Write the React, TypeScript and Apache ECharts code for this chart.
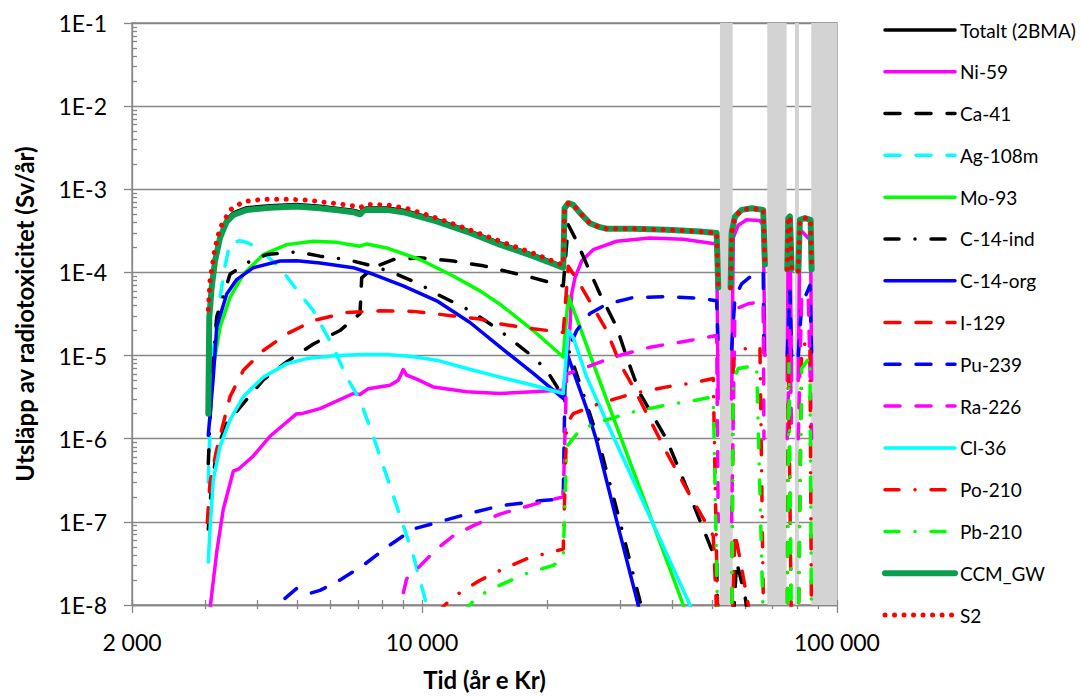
import React, { useEffect, useRef } from 'react';
import * as echarts from 'echarts';

type Pt = [number, number | null];

// ---------- axis ticks / labels ----------
const xTickValues = [2000, 10000, 100000];
const xTickLabels = ['2 000', '10 000', '100 000'];
const xMinorTicks = [3000, 4000, 5000, 6000, 7000, 8000, 9000, 20000, 30000, 40000, 50000, 60000, 70000, 80000, 90000];
const yTickValues = [1e-8, 1e-7, 1e-6, 1e-5, 1e-4, 1e-3, 1e-2, 1e-1];
const yTickLabels = ['1E-8', '1E-7', '1E-6', '1E-5', '1E-4', '1E-3', '1E-2', '1E-1'];
const yMinorMultipliers = [2, 3, 4, 5, 6, 7, 8, 9];

// gray time bands (år e Kr)
const bands: [number, number][] = [
  [52230, 56050],
  [67900, 75620],
  [79170, 80950],
  [86690, 100000],
];

// ---------- series data [år, Sv/år] (null = gap) ----------
const totalt: Pt[] = [
  [3054, 2.2e-6], [3071, 3.1e-5], [3112, 7e-5], [3170, 1.45e-4], [3259, 2.75e-4], [3383, 4.35e-4], [3509, 5.2e-4],
  [3780, 6e-4], [4301, 6.35e-4], [4988, 6.55e-4], [5676, 6.25e-4], [6342, 5.85e-4], [6828, 5.6e-4], [7087, 5.3e-4],
  [7218, 5.8e-4], [7355, 5.95e-4], [8217, 5.95e-4], [9010, 5.6e-4], [10850, 4.3e-4], [12810, 3.25e-4], [15410, 2.26e-4],
  [18540, 1.64e-4], [21890, 1.19e-4], [22050, 5.9e-4], [22510, 6.8e-4], [23140, 6.5e-4], [24020, 5.2e-4], [25390, 3.9e-4],
  [26840, 3.5e-4], [27860, 3.35e-4], [32280, 3.35e-4], [38860, 3.26e-4], [46750, 3.1e-4], [51280, 2.98e-4], [51740, 6.6e-5],
  [53500, null], [55420, 6.6e-5], [55730, 3e-4], [56760, 4.7e-4], [58910, 5.65e-4], [62270, 5.9e-4], [66410, 5.65e-4],
  [67040, 1.25e-4], [70000, null], [75870, 1.09e-4], [76290, 4.5e-4], [77010, 4.7e-4], [77740, 1.1e-4], [79000, null],
  [80640, 1.04e-4], [81400, 4.3e-4], [83690, 4.5e-4], [86380, 4.3e-4], [86860, 1.09e-4],
];
const ni59: Pt[] = [
  [3083, 9e-9], [3200, 4.3e-8], [3319, 1.42e-7], [3509, 4.07e-7], [3608, 4.3e-7], [3921, 6.2e-7], [4301, 1.07e-6],
  [4988, 2.0e-6], [5128, 2.0e-6], [5676, 2.3e-6], [6828, 3.5e-6], [7087, 3.4e-6], [7421, 4.0e-6], [8370, 4.4e-6],
  [8763, 5.06e-6], [9010, 6.8e-6], [9181, 5.8e-6], [9706, 5.2e-6], [10640, 4.2e-6], [12810, 3.67e-6], [15410, 3.5e-6],
  [18540, 3.67e-6], [21890, 3.85e-6], [22310, 8e-6], [22720, 2.2e-5], [22940, 5.5e-5], [23360, 8.6e-5], [24240, 1.37e-4],
  [25860, 1.88e-4], [29450, 2.37e-4], [35420, 2.6e-4], [42610, 2.5e-4], [51280, 2.2e-4], [51740, 3e-6], [53500, null],
  [55730, 3e-6], [56230, 2.6e-4], [57810, 3.7e-4], [60570, 4.3e-4], [65210, 4.2e-4], [66410, 3.7e-4], [67040, 1e-5],
  [70000, null], [75870, 5e-6], [76290, 3.5e-4], [77010, 3.6e-4], [77740, 5e-6], [79000, null], [80640, 5e-6],
  [81400, 3.3e-4], [85230, 2.6e-4], [86380, 2.5e-4], [86860, 5e-6],
];
const ca41: Pt[] = [
  [3054, 8.2e-8], [3095, 2.04e-7], [3200, 7.4e-7], [3383, 1.53e-6], [3710, 2.66e-6], [4144, 5.1e-6], [4719, 8.4e-6],
  [5470, 1.38e-5], [6342, 2.0e-5], [7087, 3.2e-5], [7154, 8.6e-5], [7629, 1.14e-4], [8524, 1.43e-4], [9886, 1.5e-4],
  [11890, 1.37e-4], [14050, 1.2e-4], [18540, 8.6e-5], [21110, 7.2e-5], [21890, 6.9e-5], [22510, 3.74e-4], [23590, 2.37e-4],
  [24930, 1.25e-4], [26840, 5.5e-5], [29450, 2.2e-5], [31120, 9.6e-6], [33510, 3.5e-6], [38860, 9.8e-7], [44230, 2.05e-7],
  [51280, 3.3e-8], [51740, 3e-9], [53500, null], [55730, 3e-9], [57300, 3.3e-8], [60000, 1.3e-8], [61690, 5e-9],
];
const ag108m: Pt[] = [
  [3054, 3e-7], [3112, 6.7e-6], [3200, 2.75e-5], [3351, 1.2e-4], [3445, 2.26e-4], [3642, 2.4e-4], [3814, 2.26e-4],
  [4069, 1.88e-4], [4546, 1.14e-4], [5080, 5.5e-5], [5470, 3.47e-5], [6111, 1.26e-5], [6582, 5.5e-6], [7087, 2.9e-6],
  [7629, 1.07e-6], [8217, 3.55e-7], [8847, 1.19e-7], [9524, 3.95e-8], [10260, 1e-8], [10600, 4e-9],
];
const mo93: Pt[] = [
  [3054, 2e-6], [3112, 5.5e-6], [3259, 2.2e-5], [3445, 5e-5], [3710, 9.5e-5], [4144, 1.64e-4], [4719, 2.16e-4],
  [5470, 2.37e-4], [6228, 2.3e-4], [7087, 2.07e-4], [7355, 2.2e-4], [8217, 1.97e-4], [9886, 1.43e-4], [11890, 9.06e-5],
  [13790, 6e-5], [15410, 4.15e-5], [18540, 2e-5], [21890, 9.6e-6], [22510, 5.2e-5], [24020, 2.2e-5], [25860, 8e-6],
  [29990, 1.1e-6], [35420, 1.2e-7], [42610, 1e-8], [44230, 4e-9],
];
const c14ind: Pt[] = [
  [3054, 5e-7], [3112, 5e-6], [3200, 2.9e-5], [3445, 9.5e-5], [3780, 1.3e-4], [4223, 1.64e-4], [4988, 1.77e-4],
  [5676, 1.57e-4], [6582, 1.43e-4], [7629, 1.19e-4], [8524, 9.9e-5], [9886, 7.2e-5], [10850, 5.5e-5], [13050, 3.47e-5],
  [15410, 2e-5], [18540, 9.6e-6], [19970, 6.65e-6], [21890, 3.2e-6], [22510, 1.2e-5], [24930, 2.6e-6], [26540, 1e-6],
  [29990, 1e-7], [33690, 1e-8], [34500, 4e-9],
];
const c14org: Pt[] = [
  [3054, 1.1e-6], [3140, 5.5e-6], [3200, 2.2e-5], [3383, 5.5e-5], [3576, 8.2e-5], [3921, 1.14e-4], [4546, 1.37e-4],
  [4988, 1.38e-4], [5676, 1.3e-4], [6828, 1.14e-4], [7629, 9.5e-5], [9010, 6.9e-5], [10850, 4.56e-5], [13050, 2.5e-5],
  [15410, 1.27e-5], [18540, 6.1e-6], [21890, 3.05e-6], [22510, 9.6e-6], [24930, 2.3e-6], [26260, 1e-6], [29490, 1e-7],
  [33190, 1e-8], [34000, 4e-9],
];
const i129: Pt[] = [
  [3037, 9.8e-8], [3083, 2.95e-7], [3200, 7.4e-7], [3445, 3.2e-6], [3710, 6.65e-6], [4144, 1.15e-5], [4719, 1.82e-5],
  [5470, 2.63e-5], [6582, 3.3e-5], [7918, 3.45e-5], [9524, 3.4e-5], [11890, 3.0e-5], [13790, 2.75e-5], [15410, 2.4e-5],
  [18540, 2.1e-5], [21890, 1.9e-5], [22510, 1.19e-4], [24020, 7.2e-5], [25860, 3.8e-5], [27860, 2e-5], [29990, 8e-6],
  [32280, 4.2e-6], [38860, 6.8e-7], [43420, 2.46e-7], [50320, 6.8e-8], [51740, 3e-9], [53500, null], [55730, 3e-9],
  [56760, 7.4e-8], [58360, 3.6e-8], [61110, 1e-8], [62500, 4e-9],
];
const pu239: Pt[] = [
  [4675, 1.2e-8], [4988, 1.58e-8], [5370, 1.38e-8], [5676, 1.5e-8], [6228, 1.89e-8], [7218, 3e-8], [8217, 4.95e-8],
  [9524, 8.2e-8], [11250, 1.03e-7], [12810, 1.24e-7], [15410, 1.56e-7], [19240, 1.79e-7], [21890, 1.9e-7], [22110, 5e-6],
  [22510, 1.2e-5], [23590, 2e-5], [25390, 3.2e-5], [27860, 4.15e-5], [32280, 5e-5], [38860, 5.1e-5], [46750, 4.9e-5],
  [51280, 4.56e-5], [51740, 1.2e-5], [53500, null], [55730, 1.2e-5], [56760, 5e-5], [58910, 7.3e-5], [62830, 9.5e-5],
  [66410, 1e-4], [66670, 1e-5], [70000, null], [75870, 1e-5], [77010, 6e-5], [77740, 1e-5], [79000, null], [80640, 1e-5],
  [82170, 4e-5], [86040, 7e-5], [86860, 1e-5],
];
const ra226: Pt[] = [
  [8880, 6e-9], [8930, 1.15e-8], [9181, 2.07e-8], [9706, 2.7e-8], [10850, 4.7e-8], [11890, 6.8e-8], [13290, 9e-8],
  [15410, 1.24e-7], [19240, 1.7e-7], [20720, 1.87e-7], [21890, 2e-7], [22310, 6e-6], [24460, 7e-6], [28900, 9.6e-6],
  [35420, 1.26e-5], [44230, 1.52e-5], [51280, 1.74e-5], [51740, 1e-7], [53500, null], [55730, 1e-7], [56760, 3.6e-5],
  [61110, 4.2e-5], [66410, 4.5e-5], [66670, 1e-6], [70000, null], [75870, 1e-6], [77010, 2e-5], [77740, 1e-6],
  [79000, null], [80640, 1e-6], [82170, 5e-5], [85230, 5.5e-5], [86860, 1e-6],
];
const cl36: Pt[] = [
  [3054, 3.3e-8], [3083, 8.2e-8], [3140, 3.2e-7], [3259, 8.1e-7], [3445, 1.69e-6], [3710, 3.2e-6], [4144, 5.5e-6],
  [4719, 8e-6], [5272, 9.2e-6], [6228, 1.0e-5], [7218, 1.03e-5], [8217, 1.03e-5], [9352, 9.8e-6], [10850, 8.8e-6],
  [12810, 7e-6], [15410, 5.5e-6], [18540, 4.4e-6], [21890, 3.5e-6], [22510, 2e-5], [23140, 1.65e-5], [24930, 5.5e-6],
  [28370, 1.3e-6], [33510, 2.1e-7], [38490, 4.6e-8], [44230, 1e-8], [45500, 4e-9],
];
const po210: Pt[] = [
  [10850, 8e-9], [11890, 1.25e-8], [13790, 1.98e-8], [15410, 2.6e-8], [17870, 3.6e-8], [20340, 4.3e-8], [21890, 4.7e-8],
  [22310, 1.5e-6], [23140, 2e-6], [26840, 2.66e-6], [32280, 3.5e-6], [38860, 4.2e-6], [45040, 4.7e-6], [50320, 5.3e-6],
  [51740, 3e-9], [53500, null], [55730, 3e-9], [56230, 9e-6], [58910, 1.2e-5], [65210, 1.25e-5], [66670, 3e-9],
  [70000, null], [75870, 3e-9], [76290, 1.2e-5], [77740, 3e-9], [79000, null], [80640, 3e-9], [82170, 1.3e-5],
  [86040, 1.5e-5], [86860, 3e-9],
];
const pb210: Pt[] = [
  [12570, 8e-9], [13540, 1.25e-8], [15410, 1.73e-8], [17870, 2.4e-8], [20720, 3e-8], [21890, 3.6e-8], [22310, 8e-7],
  [24020, 1.28e-6], [26840, 1.6e-6], [32280, 2.1e-6], [38860, 2.55e-6], [45040, 2.86e-6], [50320, 3.2e-6], [51740, 3e-9],
  [53500, null], [55730, 3e-9], [56230, 5e-6], [57810, 7e-6], [64020, 7.6e-6], [66670, 3e-9], [70000, null], [75870, 3e-9],
  [76590, 8e-6], [77740, 3e-9], [79000, null], [80640, 3e-9], [82170, 7e-6], [86040, 9.6e-6], [86860, 3e-9],
];
const ccmGW: Pt[] = [
  [3054, 2e-6], [3071, 2.9e-5], [3112, 6.6e-5], [3170, 1.37e-4], [3259, 2.6e-4], [3383, 4.1e-4], [3509, 4.9e-4],
  [3780, 5.65e-4], [4301, 6.0e-4], [4988, 6.2e-4], [5676, 5.9e-4], [6342, 5.55e-4], [6828, 5.3e-4], [7087, 5.0e-4],
  [7218, 5.5e-4], [7355, 5.65e-4], [8217, 5.65e-4], [9010, 5.3e-4], [10850, 4.1e-4], [12810, 3.1e-4], [15410, 2.16e-4],
  [18540, 1.57e-4], [21890, 1.14e-4], [22050, 5.9e-4], [22510, 6.8e-4], [23140, 6.5e-4], [24020, 5.2e-4], [25390, 3.9e-4],
  [26840, 3.5e-4], [27860, 3.35e-4], [32280, 3.35e-4], [38860, 3.26e-4], [46750, 3.1e-4], [51280, 2.98e-4], [51740, 6.6e-5],
  [53500, null], [55420, 6.6e-5], [55730, 3e-4], [56760, 4.7e-4], [58910, 5.65e-4], [62270, 5.9e-4], [66410, 5.65e-4],
  [67040, 1.25e-4], [70000, null], [75870, 1.09e-4], [76290, 4.5e-4], [77010, 4.7e-4], [77740, 1.1e-4], [79000, null],
  [80640, 1.04e-4], [81400, 4.3e-4], [83690, 4.5e-4], [86380, 4.3e-4], [86860, 1.09e-4],
];
const s2: Pt[] = [
  [3054, 3.6e-5], [3083, 7.9e-5], [3170, 1.97e-4], [3259, 3.4e-4], [3445, 5.65e-4], [3710, 7.1e-4], [4144, 7.6e-4],
  [4719, 7.6e-4], [5272, 7.4e-4], [6111, 6.8e-4], [6828, 6.3e-4], [7087, 6.0e-4], [7355, 6.6e-4], [8217, 6.5e-4],
  [9181, 5.9e-4], [10850, 4.5e-4], [12810, 3.35e-4], [15410, 2.37e-4], [18540, 1.7e-4], [21890, 1.22e-4], [22050, 5.9e-4],
  [22510, 6.8e-4], [23140, 6.5e-4], [24020, 5.2e-4], [25390, 3.9e-4], [26840, 3.5e-4], [27860, 3.35e-4], [32280, 3.35e-4],
  [38860, 3.26e-4], [46750, 3.1e-4], [51280, 2.98e-4], [51740, 6.6e-5], [53500, null], [55420, 6.6e-5], [55730, 3e-4],
  [56760, 4.7e-4], [58910, 5.65e-4], [62270, 5.9e-4], [66410, 5.65e-4], [67040, 1.25e-4], [70000, null], [75870, 1.09e-4],
  [76290, 4.5e-4], [77010, 4.7e-4], [77740, 1.1e-4], [79000, null], [80640, 1.04e-4], [81400, 4.3e-4], [83690, 4.5e-4],
  [86380, 4.3e-4], [86860, 1.09e-4],
];

// ---------- styles ----------
const DASH = [15, 16];
const DASHDOT = [14, 16, 0.01, 16];
const DOT = [0.01, 9.5];
const SOLID: any = 'solid';

const seriesDefs = [
  { name: 'Totalt (2BMA)', data: totalt, color: '#000000', width: 3.5, dash: SOLID },
  { name: 'Ni-59', data: ni59, color: '#ff00ff', width: 3.5, dash: SOLID },
  { name: 'Ca-41', data: ca41, color: '#000000', width: 3.5, dash: DASH },
  { name: 'Ag-108m', data: ag108m, color: '#00ffff', width: 3.5, dash: DASH },
  { name: 'Mo-93', data: mo93, color: '#00ff00', width: 3.5, dash: SOLID },
  { name: 'C-14-ind', data: c14ind, color: '#000000', width: 3.5, dash: DASHDOT },
  { name: 'C-14-org', data: c14org, color: '#0000ff', width: 3.5, dash: SOLID },
  { name: 'I-129', data: i129, color: '#ff0000', width: 3.5, dash: DASH },
  { name: 'Pu-239', data: pu239, color: '#0000ff', width: 3.5, dash: DASH },
  { name: 'Ra-226', data: ra226, color: '#ff00ff', width: 3.5, dash: DASH },
  { name: 'Cl-36', data: cl36, color: '#00ffff', width: 3.5, dash: SOLID },
  { name: 'Po-210', data: po210, color: '#ff0000', width: 3.5, dash: DASHDOT },
  { name: 'Pb-210', data: pb210, color: '#00ff00', width: 3.5, dash: DASHDOT },
  { name: 'CCM_GW', data: ccmGW, color: '#0a9e4e', width: 6, dash: SOLID },
  { name: 'S2', data: s2, color: '#ff0000', width: 5, dash: DOT },
];

const FONT = 'Lato, "Open Sans", sans-serif';
const AX = '#878787';

const xLabel = (v: number) => {
  const i = xTickValues.findIndex((t) => Math.abs(t - v) / t < 1e-6);
  return i >= 0 ? xTickLabels[i] : '';
};
const yLabel = (v: number) => {
  const i = yTickValues.findIndex((t) => Math.abs(t - v) / t < 1e-6);
  return i >= 0 ? yTickLabels[i] : '';
};

function buildOption() {
  const yMinor: number[] = [];
  for (let k = 0; k < yTickValues.length - 1; k++) {
    for (const m of yMinorMultipliers) yMinor.push(yTickValues[k] * m);
  }
  const baseX = { type: 'log', logBase: 10, min: 2000, max: 100000, gridIndex: 0, position: 'bottom' };
  const baseY = { type: 'log', logBase: 10, min: 1e-8, max: 0.1, gridIndex: 0, position: 'left' };

  const lineSeries = seriesDefs.map((d) => ({
    name: d.name,
    type: 'line',
    data: d.data.map(([t, v]) => [t, v === null ? '-' : v]),
    symbol: 'none',
    showSymbol: false,
    connectNulls: false,
    clip: true,
    silent: true,
    z: 3,
    lineStyle: { color: d.color, width: d.width, type: d.dash, cap: 'round', join: 'round' },
    itemStyle: { color: d.color },
  }));

  return {
    animation: false,
    backgroundColor: '#ffffff',
    grid: {
      left: 132, top: 23, right: 244, bottom: 86,
      show: true, borderColor: AX, borderWidth: 1.3, backgroundColor: 'transparent',
    },
    legend: {
      orient: 'vertical', left: 882, top: 19, padding: 0,
      itemWidth: 70, itemHeight: 14, itemGap: 19.79,
      selectedMode: false,
      data: seriesDefs.map((d) => d.name),
      itemStyle: { opacity: 0 },
      lineStyle: { width: 'inherit', type: 'inherit', cap: 'inherit' },
      textStyle: { fontFamily: FONT, fontSize: 19, color: '#000', lineHeight: 22, padding: 0 },
    },
    xAxis: [
      {
        ...baseX,
        axisLine: { show: true, lineStyle: { color: AX, width: 1.3 } },
        axisTick: { show: true, length: 8, customValues: xTickValues, lineStyle: { color: AX, width: 1.3 } },
        axisLabel: { show: true, customValues: xTickValues, formatter: xLabel, margin: 25, fontFamily: FONT, fontSize: 23, color: '#000' },
        splitLine: { show: false },
        name: 'Tid (år e Kr)', nameLocation: 'middle', nameGap: 62,
        nameTextStyle: { fontFamily: FONT, fontSize: 24, fontWeight: 'bold', color: '#000' },
      },
      {
        ...baseX,
        axisLine: { show: false },
        axisTick: { show: true, inside: true, length: 5, customValues: [...xTickValues, ...xMinorTicks], lineStyle: { color: AX, width: 1.3 } },
        axisLabel: { show: false },
        splitLine: { show: false },
      },
      {
        ...baseX,
        axisLine: { show: false },
        axisTick: { show: true, inside: false, length: 4, customValues: xMinorTicks, lineStyle: { color: AX, width: 1.3 } },
        axisLabel: { show: false },
        splitLine: { show: false },
      },
    ],
    yAxis: [
      {
        ...baseY,
        axisLine: { show: true, lineStyle: { color: AX, width: 1.3 } },
        axisTick: { show: true, length: 8, customValues: yTickValues, lineStyle: { color: AX, width: 1.3 } },
        axisLabel: { show: true, customValues: yTickValues, formatter: yLabel, margin: 25, fontFamily: FONT, fontSize: 23, color: '#000' },
        splitLine: { show: true, lineStyle: { color: AX, width: 1.3 } },
        name: 'Utsläpp av radiotoxicitet (Sv/år)', nameLocation: 'middle', nameGap: 96,
        nameTextStyle: { fontFamily: FONT, fontSize: 24, fontWeight: 'bold', color: '#000' },
      },
      {
        ...baseY,
        axisLine: { show: false },
        axisTick: { show: true, inside: true, length: 5, customValues: yMinor, lineStyle: { color: AX, width: 1.3 } },
        axisLabel: { show: false },
        splitLine: { show: false },
      },
    ],
    series: [
      {
        type: 'line',
        data: [[2000, 1e-9]],
        symbol: 'none',
        silent: true,
        z: 1,
        lineStyle: { width: 0 },
        markArea: {
          silent: true,
          z: 1,
          itemStyle: { color: '#d3d3d3', borderWidth: 0 },
          data: bands.map(([a, b]) => [{ xAxis: a }, { xAxis: b }]),
        },
      },
      ...lineSeries,
    ],
  };
}

export default function App() {
  const ref = useRef<HTMLDivElement>(null);
  useEffect(() => {
    const chart = echarts.init(ref.current as HTMLDivElement, null, { renderer: 'svg' });
    chart.setOption(buildOption() as any);
    return () => chart.dispose();
  }, []);
  return (
    <div
      ref={ref}
      style={{ position: 'fixed', left: 0, top: 0, width: 1081, height: 696, background: '#ffffff' }}
    />
  );
}
